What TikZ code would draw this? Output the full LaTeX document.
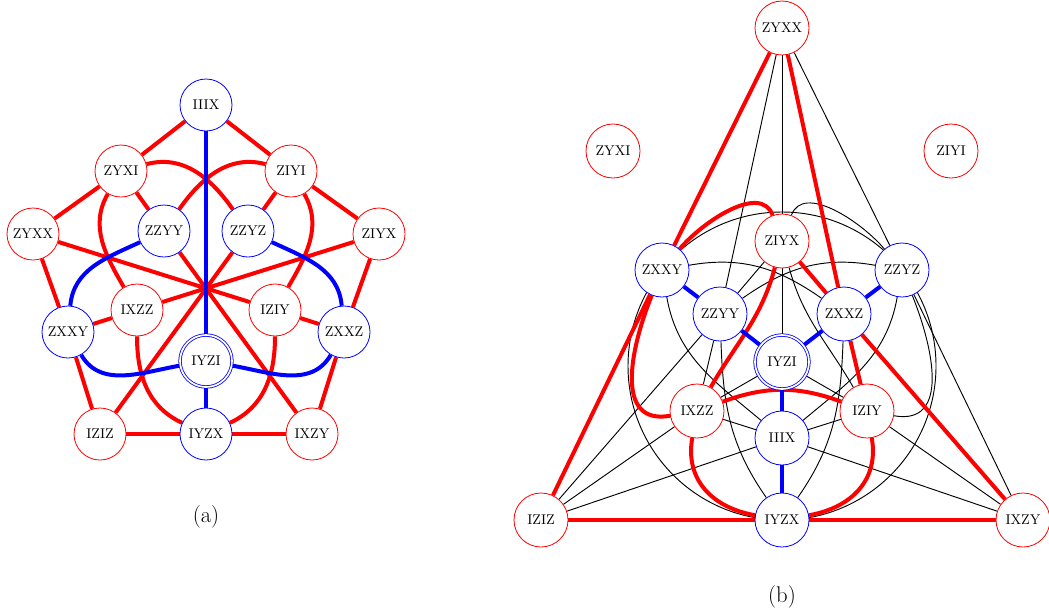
\documentclass[tikz,border=0pt]{standalone}
\usetikzlibrary{backgrounds}
\begin{document}
\begin{tikzpicture}[x=0.75pt,y=-0.75pt,
  pa/.style={circle, fill=white, minimum size=39pt, inner sep=0pt, line width=0.6pt, font=\fontsize{10.6}{12}\selectfont},
  pb/.style={pa, minimum size=40.5pt},
  ra/.style={pa, draw=red}, ba/.style={pa, draw=blue},
  rb/.style={pb, draw=red}, bb/.style={pb, draw=blue},
  dbl/.style={draw=blue, double=white, double distance=1.3pt, line width=0.6pt},
  re/.style={red, line width=3pt},
  be/.style={blue, line width=3pt},
  ke/.style={black, line width=0.7pt},
  captxt/.style={font=\fontsize{17}{20}\selectfont}]
\useasboundingbox (0,0) rectangle (1049,611);
% ---------- (a) ----------
\node[ba] (IIIXa) at (206,105) {IIIX};
\node[ra] (ZYXIa) at (121,171) {ZYXI};
\node[ra] (ZIYIa) at (291,171) {ZIYI};
\node[ra] (ZYXXa) at (33,234) {ZYXX};
\node[ra] (ZIYXa) at (379,234) {ZIYX};
\node[ba] (ZZYYa) at (164,231) {ZZYY};
\node[ba] (ZZYZa) at (248,231) {ZZYZ};
\node[ra] (IXZZa) at (137,310) {IXZZ};
\node[ra] (IZIYa) at (275,310) {IZIY};
\node[ba] (ZXXYa) at (68,332) {ZXXY};
\node[ba] (ZXXZa) at (344,332) {ZXXZ};
\node[pa, dbl] (IYZIa) at (206,361) {IYZI};
\node[ra] (IZIZa) at (100,434) {IZIZ};
\node[ba] (IYZXa) at (206,434) {IYZX};
\node[ra] (IXZYa) at (312,434) {IXZY};
\node[captxt] (capa) at (206,517) {(a)};
% ---------- (b) ----------
\node[rb] (ZYXXb) at (782,28) {ZYXX};
\node[rb] (ZYXIb) at (613,151) {ZYXI};
\node[rb] (ZIYIb) at (951,151) {ZIYI};
\node[rb] (ZIYXb) at (782,241) {ZIYX};
\node[bb] (ZXXYb) at (662,270) {ZXXY};
\node[bb] (ZZYZb) at (902,270) {ZZYZ};
\node[bb] (ZZYYb) at (720,314) {ZZYY};
\node[bb] (ZXXZb) at (844,314) {ZXXZ};
\node[pb, dbl] (IYZIb) at (782,362) {IYZI};
\node[rb] (IXZZb) at (697,411) {IXZZ};
\node[rb] (IZIYb) at (867,411) {IZIY};
\node[bb] (IIIXb) at (782,438) {IIIX};
\node[rb] (IZIZb) at (541,520) {IZIZ};
\node[bb] (IYZXb) at (782,520) {IYZX};
\node[rb] (IXZYb) at (1023,520) {IXZY};
\coordinate (cc) at (782,366);
\node[captxt] (capb) at (782,597) {(b)};
\begin{scope}[on background layer]
% (a) red
\draw[re] (IIIXa)--(ZYXIa) (IIIXa)--(ZIYIa);
\draw[re] (ZYXIa)--(ZYXXa) (ZIYIa)--(ZIYXa);
\draw[re] (ZYXXa)--(ZXXYa) (ZIYXa)--(ZXXZa);
\draw[re] (ZXXYa)--(IZIZa) (ZXXZa)--(IXZYa);
\draw[re] (IZIZa)--(IYZXa) (IYZXa)--(IXZYa);
\draw[re] (ZYXIa)--(ZZYYa) (ZIYIa)--(ZZYZa);
\draw[re] (ZXXYa)--(IXZZa) (ZXXZa)--(IZIYa);
\draw[re] (ZYXXa)--(IZIYa) (ZIYXa)--(IXZZa);
\draw[re] (ZZYYa)--(IXZYa) (ZZYZa)--(IZIZa);
\draw[re] (ZYXIa) to[out=15,in=125] (ZZYZa);
\draw[re] (ZIYIa) to[out=165,in=55] (ZZYYa);
\draw[re] (ZYXIa) to[out=-120,in=120] (IXZZa);
\draw[re] (ZIYIa) to[out=-60,in=60] (IZIYa);
\draw[re] (IXZZa) to[out=-90,in=155] (IYZXa);
\draw[re] (IZIYa) to[out=-90,in=25] (IYZXa);
% (a) blue
\draw[be] (IIIXa)--(IYZIa) (IYZIa)--(IYZXa);
\draw[be] (ZZYYa) to[out=205,in=85] (ZXXYa);
\draw[be] (ZZYZa) to[out=-25,in=95] (ZXXZa);
\draw[be] (ZXXYa) to[out=-60,in=190] (IYZIa);
\draw[be] (ZXXZa) to[out=-120,in=-10] (IYZIa);
% (b) black
\draw[ke] (ZYXXb)--(ZIYXb) (ZIYXb)--(IYZIb);
\draw[ke] (ZYXXb)--(ZZYZb) (ZZYZb)--(IXZYb);
\draw[ke] (ZYXXb)--(ZZYYb) (ZZYYb)--(IXZZb);
\draw[ke] (ZIYXb)--(ZZYYb) (ZZYYb)--(IZIZb);
\draw[ke] (ZZYZb) to[out=130,in=70,looseness=0.9] (ZIYXb);
\draw[ke] (ZIYXb) to[out=-75,in=120] (IZIYb);
\draw[ke] (ZZYZb) to[out=-68,in=-10,looseness=1.2] (IZIYb);
\draw[ke] (cc) circle[radius=154];
\draw[ke] (ZXXYb) to[out=10,in=145] (ZXXZb);
\draw[ke] (ZZYZb) to[out=170,in=35] (ZZYYb);
\draw[ke] (ZXXYb) to[out=-80,in=140] (IIIXb);
\draw[ke] (ZZYZb) to[out=-100,in=40] (IIIXb);
\draw[ke] (ZZYYb) to[out=-88,in=125] (IYZXb);
\draw[ke] (ZXXZb) to[out=-92,in=55] (IYZXb);
\draw[ke] (IZIZb)--(IXZZb) (IXZZb)--(IYZIb);
\draw[ke] (IXZYb)--(IZIYb) (IZIYb)--(IYZIb);
\draw[ke] (IXZZb)--(IIIXb) (IIIXb)--(IXZYb);
\draw[ke] (IZIZb)--(IIIXb) (IIIXb)--(IZIYb);
% (b) red
\draw[re] (ZYXXb)--(ZXXYb) (ZXXYb)--(IZIZb);
\draw[re] (ZYXXb)--(ZXXZb) (ZXXZb)--(IZIYb);
\draw[re] (ZIYXb)--(ZXXZb) (ZXXZb)--(IXZYb);
\draw[re] (IZIZb)--(IYZXb) (IYZXb)--(IXZYb);
\draw[re] (ZXXYb) to[out=50,in=110,looseness=0.9] (ZIYXb);
\draw[re] (ZIYXb) to[out=-105,in=60] (IXZZb);
\draw[re] (ZXXYb) to[out=-112,in=190,looseness=1.2] (IXZZb);
\draw[re] (IXZZb) to[out=20,in=160] (IZIYb);
\draw[re] (IXZZb) to[out=-100,in=170,looseness=1.1] (IYZXb);
\draw[re] (IZIYb) to[out=-80,in=10,looseness=1.1] (IYZXb);
% (b) blue
\draw[be] (ZXXYb)--(ZZYYb) (ZZYYb)--(IYZIb) (IYZIb)--(ZXXZb) (ZXXZb)--(ZZYZb);
\draw[be] (IYZIb)--(IIIXb) (IIIXb)--(IYZXb);
\end{scope}
\end{tikzpicture}
\end{document}
